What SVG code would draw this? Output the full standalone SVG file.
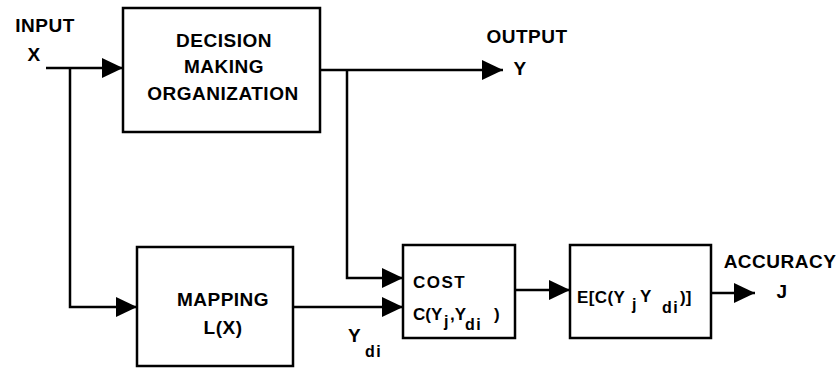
<svg xmlns="http://www.w3.org/2000/svg" width="840" height="368" viewBox="0 0 840 368">
<style>
.box{fill:#fff;stroke:#000;stroke-width:2.5}
.ln{fill:none;stroke:#000;stroke-width:2.5;marker-end:url(#ah)}
text{font-family:"Liberation Sans",Arial,sans-serif;font-weight:bold;fill:#000;font-size:19px;letter-spacing:0.5px}
.m{text-anchor:middle}
.s{font-size:17px;letter-spacing:0}
.sub{font-size:16px;letter-spacing:1.5px}
</style>
<defs>
<marker id="ah" markerUnits="userSpaceOnUse" markerWidth="21" markerHeight="20" refX="21" refY="10" orient="auto">
<path d="M0,0 L21,10 L0,20 z" fill="#000"/>
</marker>
</defs>
<rect width="840" height="368" fill="#fff"/>
<g id="connectors">
<path class="ln" d="M46,68 L123,68"/>
<path class="ln" d="M70,68 L70,307 L137,307"/>
<path class="ln" d="M320,70 L503,70"/>
<path class="ln" d="M347,70 L347,278 L403,278"/>
<path class="ln" d="M293,307 L403,307"/>
<path class="ln" d="M515,290 L570,290"/>
<path class="ln" d="M711,293 L755,293"/>
</g>
<g id="input">
<text x="45" y="32" class="m">INPUT</text>
<text x="34" y="61" class="m">X</text>
</g>
<g id="dmo">
<rect class="box" x="123" y="8" width="197" height="124"/>
<text x="224" y="47" class="m">DECISION</text>
<text x="224" y="73" class="m">MAKING</text>
<text x="223" y="100" class="m">ORGANIZATION</text>
</g>
<g id="output">
<text x="527" y="43" class="m">OUTPUT</text>
<text x="520" y="75" class="m">Y</text>
</g>
<g id="mapping">
<rect class="box" x="137" y="247" width="156" height="119"/>
<text x="223" y="306" class="m">MAPPING</text>
<text x="223" y="334" class="m">L(X)</text>
</g>
<g id="ydi">
<text x="348" y="342">Y</text>
<text x="365" y="357" class="sub">di</text>
</g>
<g id="cost">
<rect class="box" x="403" y="245" width="112" height="93"/>
<text x="413" y="288" class="s" style="letter-spacing:1.5px">COST</text>
<text x="413" y="320" class="s">C(Y</text>
<text x="444" y="327" class="sub">j</text>
<text x="450" y="320" class="s">,Y</text>
<text x="465" y="330" class="sub">di</text>
<text x="494" y="320" class="s">)</text>
</g>
<g id="expect">
<rect class="box" x="570" y="245" width="141" height="93"/>
<text x="577" y="303" class="s" style="letter-spacing:0.4px">E[C(Y</text>
<text x="632" y="310" class="sub">j</text>
<text x="640" y="302" class="s">Y</text>
<text x="662" y="313" class="sub">di</text>
<text x="680" y="303" class="s">)]</text>
</g>
<g id="accuracy">
<text x="780" y="268" class="m">ACCURACY</text>
<text x="782" y="298" class="m">J</text>
</g>
</svg>
